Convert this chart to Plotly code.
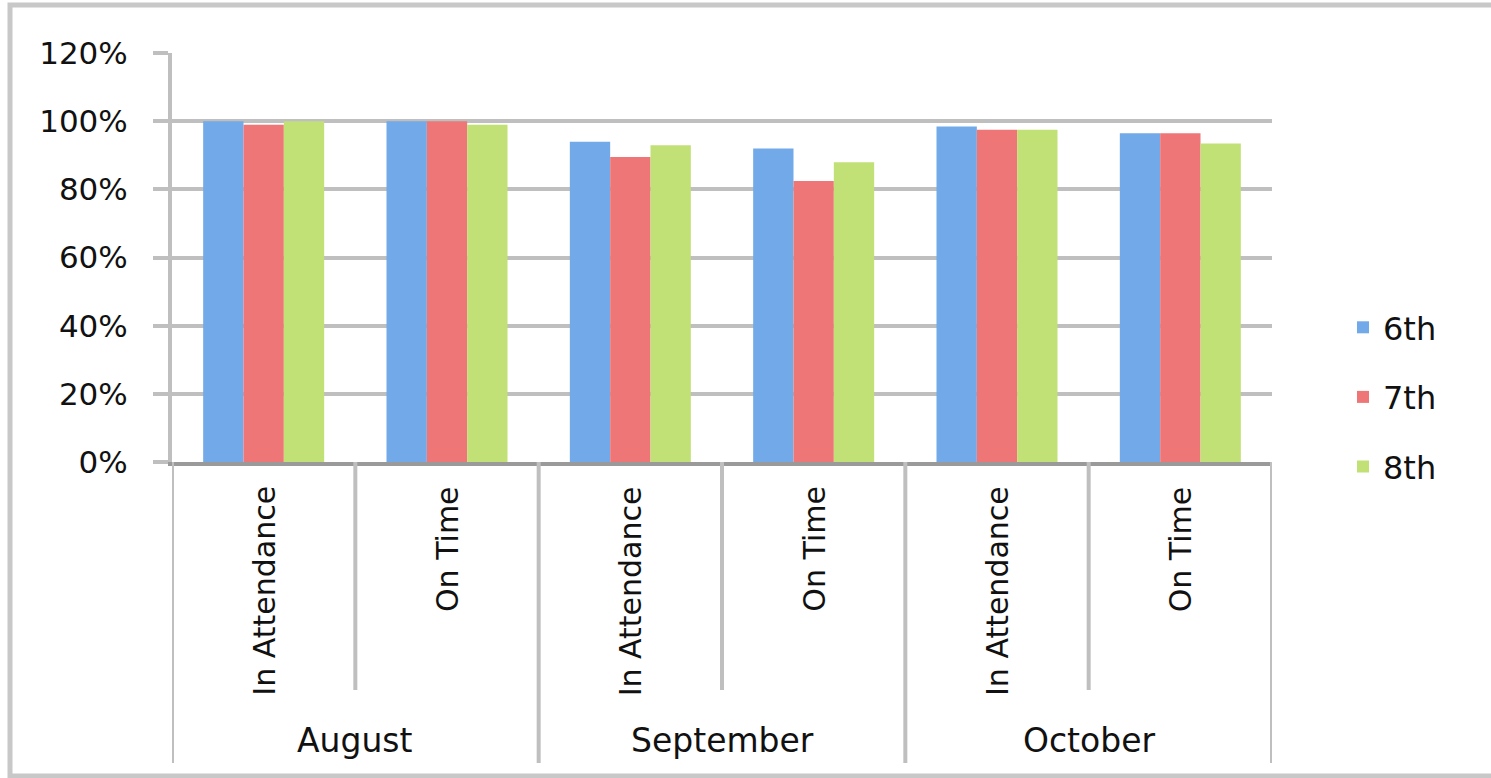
import plotly.graph_objects as go

months = ["August", "September", "October"]
measures = ["In Attendance", "On Time"]
categories = [f"{m}|{s}" for m in months for s in measures]
grade_names = ["6th", "7th", "8th"]
grade6 = [1.00, 1.00, 0.94, 0.92, 0.985, 0.965]
grade7 = [0.99, 1.00, 0.895, 0.825, 0.975, 0.965]
grade8 = [1.00, 0.99, 0.93, 0.88, 0.975, 0.935]
series = [grade6, grade7, grade8]
colors = ["#72A9E9", "#EE7676", "#C1E176"]
y_ticks = [0, 0.2, 0.4, 0.6, 0.8, 1.0, 1.2]

FONT = "DejaVu Sans"
GRID = "#BFBFBF"
TXT = "#111111"

fig = go.Figure()
for name, vals, col in zip(grade_names, series, colors):
    fig.add_trace(go.Bar(
        x=categories, y=vals, name=name, legendgroup=name,
        marker=dict(color=col, line=dict(width=0)),
    ))

W, H = 1491, 778
L, R, T, B = 172, 219, 53, 316
ph = H - T - B
pw = W - L - R

def py(pix):
    return (H - B - pix) / ph

def px(pix):
    return (pix - L) / pw

shapes = []
for i in range(7):
    full = (i % 2 == 0)
    bottom = 763 if full else 690
    shapes.append(dict(type="line", xref="x", yref="paper",
                       x0=i - 0.5, x1=i - 0.5, y0=0, y1=py(bottom),
                       line=dict(color=GRID, width=4)))
shapes.append(dict(type="rect", xref="paper", yref="paper",
                   x0=px(10), x1=px(1500), y0=py(776), y1=py(5),
                   line=dict(color="#C8C8C8", width=5)))

annotations = []
for c in categories:
    m, s = c.split("|")
    annotations.append(dict(x=c, y=py(484), xref="x", yref="paper",
                            text=s, textangle=-90, showarrow=False,
                            xanchor="center", yanchor="top",
                            font=dict(family=FONT, size=30, color=TXT)))
for j, m in enumerate(months):
    annotations.append(dict(x=2 * j + 0.5, y=py(740), xref="x", yref="paper",
                            text=m, showarrow=False,
                            xanchor="center", yanchor="middle",
                            font=dict(family=FONT, size=33, color=TXT)))

fig.update_layout(
    width=W, height=H,
    margin=dict(l=L, r=R, t=T, b=B, pad=0),
    paper_bgcolor="white", plot_bgcolor="white",
    barmode="group", bargap=0.34, bargroupgap=0,
    font=dict(family=FONT, size=30, color=TXT),
    showlegend=True,
    legend=dict(x=px(1343), y=py(300), xanchor="left", yanchor="top",
                font=dict(family=FONT, size=32, color=TXT),
                tracegroupgap=25, itemwidth=30,
                bgcolor="rgba(0,0,0,0)"),
    shapes=shapes,
    annotations=annotations,
)
fig.update_xaxes(type="category", range=[-0.5, 5.5], showticklabels=False,
                 showgrid=False, showline=True, linecolor="#9A9A9A", linewidth=4,
                 ticks="", zeroline=False)
fig.update_yaxes(range=[0, 1.2005], tickvals=y_ticks, tickformat=".0%",
                 showgrid=True, gridcolor=GRID, gridwidth=4,
                 showline=True, linecolor=GRID, linewidth=4,
                 ticks="outside", ticklen=15, tickwidth=4, tickcolor=GRID,
                 zeroline=False, ticklabelstandoff=19,
                 tickfont=dict(family=FONT, size=31, color=TXT))

fig.write_html("out.html", config={"displayModeBar": False},
               post_script="document.body.style.margin='0';")
